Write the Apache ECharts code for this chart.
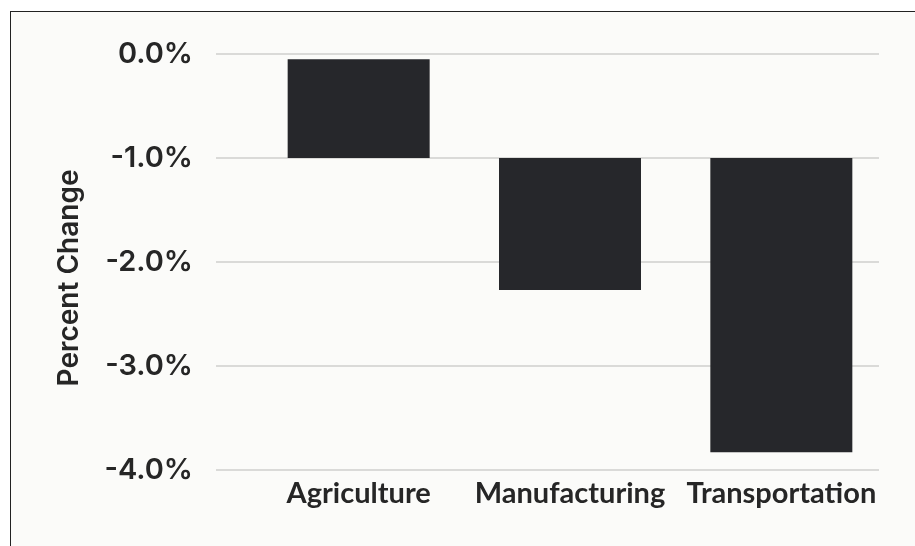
<!DOCTYPE html>
<html>
<head>
<meta charset="utf-8">
<script src="https://cdn.jsdelivr.net/npm/echarts@6/dist/echarts.min.js"></script>
<style>
  html, body { margin: 0; padding: 0; background: #ffffff; }
  #wrap { position: relative; width: 915px; height: 546px; overflow: hidden; background: #ffffff; }
  #frame { position: absolute; left: 10px; top: 11px; width: 905px; height: 535px;
           border-top: 1.5px solid #222; border-left: 1.5px solid #222; background: #fbfbf9; box-sizing: border-box; }
  #chart { position: absolute; left: 0; top: 0; width: 915px; height: 546px; }
</style>
</head>
<body>
<div id="wrap">
  <div id="frame"></div>
  <div id="chart"></div>
</div>
<script>
const categories = ['Agriculture', 'Manufacturing', 'Transportation'];
const barTop = [-0.05, -1.0, -1.0];
const barBottom = [-1.0, -2.27, -3.83];
const yTicks = [0, -1, -2, -3, -4];

const base = barTop;
const span = barBottom.map((b, i) => +(b - barTop[i]).toFixed(4));

const chart = echarts.init(document.getElementById('chart'), null, { renderer: 'canvas' });
chart.setOption({
  backgroundColor: 'transparent',
  animation: false,
  grid: [
    { left: 216, right: 36, top: 54, bottom: 76 },
    { left: 253, right: 28, top: 54, bottom: 76 }
  ],
  xAxis: [
    { type: 'category', gridIndex: 0, data: categories, show: false },
    { type: 'category', gridIndex: 1, data: categories,
      axisLine: { show: false }, axisTick: { show: false },
      axisLabel: { color: '#262626', fontSize: 29, fontFamily: 'Lato', fontWeight: 'bold', margin: 9, interval: 0 } }
  ],
  yAxis: [
    { type: 'value', gridIndex: 0, min: yTicks[yTicks.length - 1], max: yTicks[0], interval: 1,
      name: 'Percent Change', nameLocation: 'middle', nameGap: 132, nameRotate: 90,
      nameTextStyle: { color: '#262626', fontSize: 28, fontFamily: 'Inter', fontWeight: 600, padding: [0, 32, 0, 0] },
      axisLine: { show: false }, axisTick: { show: false },
      axisLabel: { color: '#262626', fontSize: 29, fontFamily: 'Inter', fontWeight: 600, margin: 23,
                   formatter: v => v.toFixed(1) + '%' },
      splitLine: { show: true, lineStyle: { color: '#cfcfcd', width: 1.5 } } },
    { type: 'value', gridIndex: 1, min: yTicks[yTicks.length - 1], max: yTicks[0], interval: 1, show: false,
      splitLine: { show: false } }
  ],
  series: [
    { type: 'bar', xAxisIndex: 1, yAxisIndex: 1, stack: 's', data: base, barWidth: 142,
      itemStyle: { color: 'transparent' }, silent: true },
    { type: 'bar', xAxisIndex: 1, yAxisIndex: 1, stack: 's', data: span, barWidth: 142,
      itemStyle: { color: '#26272b' } }
  ]
});
</script>
</body>
</html>
